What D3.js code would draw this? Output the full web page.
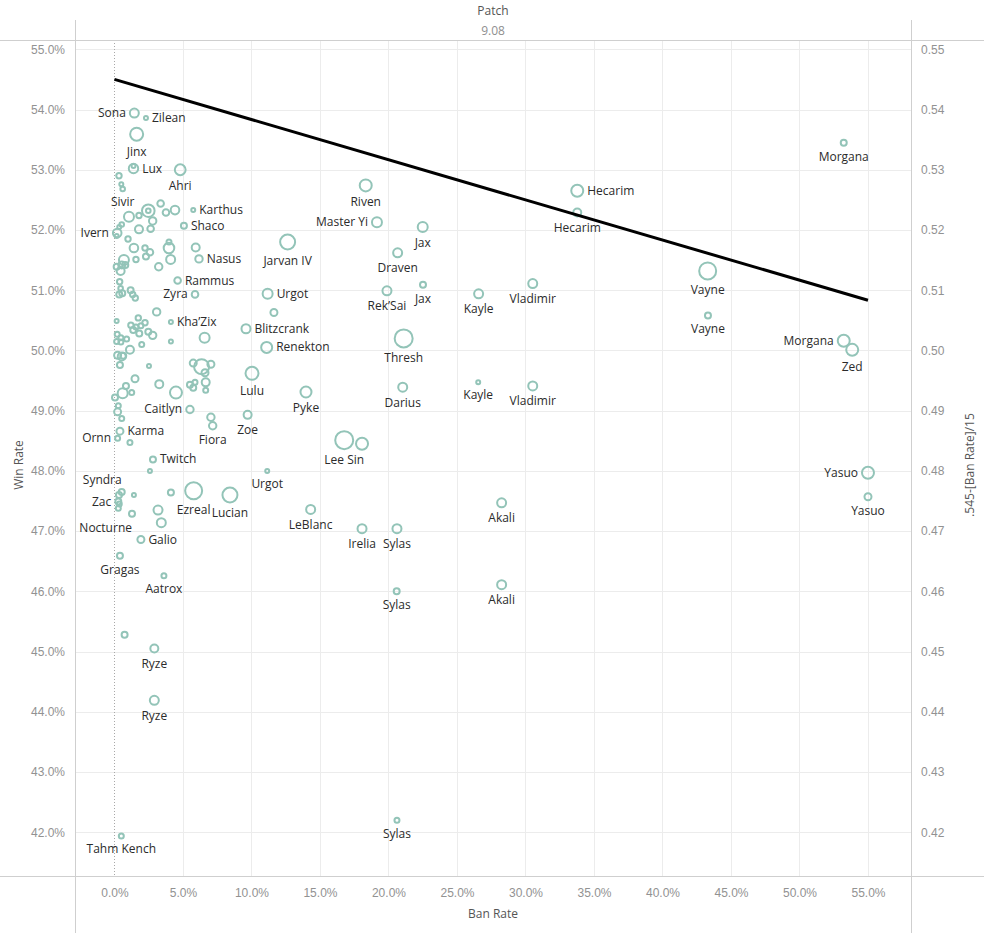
<!DOCTYPE html>
<html>
<head>
<meta charset="utf-8">
<script src="https://cdn.jsdelivr.net/npm/d3@7"></script>
<style>
  html, body { margin: 0; padding: 0; background: #fff; }
  svg { display: block; font-family: "Open Sans", "Noto Sans", sans-serif; }
  .tick text { fill: #929292; font-size: 12px; }
  .lbl { fill: #2b2b2b; font-size: 12px; }
</style>
</head>
<body>
<div id="chart"></div>
<script>
// Champion labels ("" = mark drawn without a label in the original view)
const champions = [
  "Sona", "Zilean", "Jinx", "Lux", "", "Ahri", "", "", "Sivir", "Karthus",
  "Shaco", "Ivern", "Nasus", "Rammus", "Jarvan IV", "Urgot", "Zyra", "Kha’Zix", "Blitzcrank", "Renekton",
  "Lulu", "Pyke", "Caitlyn", "Zoe", "Fiora", "", "Karma", "Ornn", "Twitch", "Urgot",
  "Syndra", "Zac", "", "", "", "Nocturne", "Galio", "Gragas", "Aatrox", "Ezreal",
  "Lucian", "LeBlanc", "Ryze", "Ryze", "Tahm Kench", "", "Riven", "Master Yi", "Jax", "Draven",
  "Jax", "Rek’Sai", "Kayle", "Vladimir", "Thresh", "Darius", "Kayle", "Vladimir", "Lee Sin", "",
  "Irelia", "Sylas", "Akali", "Sylas", "Akali", "Sylas", "Hecarim", "Hecarim", "Morgana", "Vayne",
  "Vayne", "Morgana", "Zed", "Yasuo", "Yasuo",
  // unlabeled marks in the crowded low-ban-rate cluster
  "", "", "", "", "", "", "", "", "", "",
  "", "", "", "", "", "", "", "", "", "",
  "", "", "", "", "", "", "", "", "", "",
  "", "", "", "", "", "", "", "", "", "",
  "", "", "", "", "", "", "", "", "", "",
  "", "", "", "", "", "", "", "", "", "",
  "", "", "", "", "", "", "", "", "", "",
  "", "", "", "", "", "", "", "", "", "",
  "", "", "", "", ""
];

// Ban rate (%)
const banRate = [
  1.45, 2.30, 1.62, 1.39, 1.39, 4.80, 0.33, 0.50, 0.60, 5.75,
  5.07, 0.20, 6.17, 4.61, 12.64, 11.18, 5.88, 4.12, 9.60, 11.11,
  10.04, 13.98, 5.51, 9.72, 7.17, 7.04, 0.40, 0.23, 2.81, 11.15,
  0.53, 0.28, 0.35, 0.28, 0.33, 1.28, 1.93, 0.40, 3.61, 5.78,
  8.43, 14.32, 2.91, 2.91, 0.50, 0.74, 18.34, 19.16, 22.50, 20.67,
  22.52, 19.89, 26.58, 30.53, 21.11, 21.04, 26.55, 30.53, 16.77, 18.07,
  18.07, 20.62, 28.26, 20.60, 28.26, 20.62, 33.78, 33.78, 53.23, 43.30,
  43.32, 53.23, 53.85, 55.00, 55.00,
  3.37, 2.47, 2.47, 4.42, 3.76, 1.06, 1.79, 2.79, 1.79, 2.64,
  0.53, 0.35, 0.16, 0.99, 3.98, 3.98, 5.93, 1.42, 2.23, 2.59,
  2.30, 1.57, 0.69, 4.10, 0.53, 0.16, 0.45, 0.79, 3.23, 0.38,
  0.45, 0.35, 0.57, 1.18, 1.33, 1.52, 3.08, 0.16, 1.20, 1.74,
  2.23, 1.57, 1.93, 1.37, 1.81, 2.47, 2.79, 4.12, 6.58, 1.99,
  0.20, 0.47, 0.16, 0.47, 0.89, 1.13, 0.23, 0.53, 0.64, 0.40,
  2.52, 5.75, 6.36, 7.04, 6.61, 1.50, 0.84, 0.60, 1.26, 0.04,
  3.27, 4.49, 5.51, 5.75, 5.88, 6.66, 6.66, 0.28, 0.23, 0.53,
  1.13, 2.59, 4.12, 1.42, 3.18, 3.42, 11.64
];

// Win rate (%)
const winRate = [
  53.94, 53.86, 53.59, 53.02, 53.06, 53.00, 52.90, 52.76, 52.68, 52.33,
  52.07, 51.95, 51.52, 51.16, 51.80, 50.94, 50.93, 50.47, 50.36, 50.05,
  49.62, 49.31, 49.02, 48.93, 48.75, 48.89, 48.66, 48.54, 48.19, 48.00,
  47.65, 47.49, 47.45, 47.38, 47.60, 47.29, 46.86, 46.59, 46.26, 47.67,
  47.60, 47.36, 45.05, 44.19, 41.94, 45.28, 52.74, 52.13, 52.05, 51.62,
  51.09, 50.99, 50.94, 51.11, 50.20, 49.39, 49.47, 49.41, 48.51, 48.45,
  47.04, 47.04, 47.47, 46.00, 46.11, 42.20, 52.65, 52.29, 53.45, 51.32,
  50.58, 50.16, 50.01, 47.97, 47.57,
  52.44, 52.32, 52.32, 52.33, 52.29, 52.22, 52.24, 52.15, 52.01, 52.02,
  52.09, 52.05, 51.90, 51.85, 51.80, 51.70, 51.71, 51.70, 51.70, 51.63,
  51.56, 51.51, 51.50, 51.51, 51.42, 51.39, 51.32, 51.42, 51.39, 51.14,
  51.03, 50.93, 50.95, 51.00, 50.93, 50.87, 50.64, 50.49, 50.42, 50.54,
  50.46, 50.39, 50.41, 50.34, 50.28, 50.31, 50.25, 50.15, 50.21, 50.10,
  50.27, 50.21, 50.15, 50.14, 50.19, 50.01, 49.92, 49.90, 49.91, 49.76,
  49.74, 49.79, 49.73, 49.77, 49.63, 49.53, 49.41, 49.29, 49.30, 49.22,
  49.44, 49.30, 49.43, 49.38, 49.47, 49.47, 49.34, 49.08, 48.98, 48.87,
  48.47, 48.00, 47.64, 47.60, 47.35, 47.14, 50.63
];

// Pick rate (%), drives the mark size
const pickRate = [
  4.05, 0.80, 8.45, 4.42, 0.80, 5.83, 1.46, 0.80, 1.06, 0.80,
  1.80, 3.70, 2.74, 2.18, 11.25, 5.00, 2.18, 0.80, 4.05, 6.05,
  8.45, 6.05, 2.74, 3.20, 2.74, 2.74, 2.45, 1.25, 1.80, 0.80,
  1.80, 1.80, 1.25, 1.25, 1.80, 1.80, 2.45, 1.80, 1.25, 14.45,
  11.25, 4.05, 3.20, 4.05, 1.25, 1.80, 7.20, 5.00, 5.00, 4.05,
  1.80, 4.05, 4.05, 4.05, 16.20, 4.05, 0.80, 4.05, 16.20, 7.20,
  4.05, 4.05, 4.05, 1.80, 4.05, 1.25, 7.20, 3.20, 1.80, 14.45,
  1.80, 7.20, 7.20, 7.20, 2.45,
  2.18, 7.94, 1.06, 3.70, 2.18, 5.00, 1.46, 2.74, 3.20, 2.18,
  1.06, 0.80, 0.80, 1.46, 1.25, 5.62, 3.20, 3.70, 1.46, 2.18,
  1.80, 1.46, 5.00, 4.05, 2.45, 1.80, 3.20, 1.80, 2.74, 1.46,
  1.06, 1.80, 1.80, 1.80, 1.46, 1.46, 2.74, 0.80, 1.46, 1.46,
  1.46, 1.25, 1.25, 1.80, 1.80, 1.80, 2.74, 0.80, 5.00, 1.25,
  1.25, 1.25, 1.25, 1.25, 1.25, 3.20, 2.45, 3.20, 1.80, 1.80,
  0.80, 2.45, 11.25, 2.45, 2.45, 2.45, 1.80, 5.00, 1.25, 1.80,
  3.20, 7.20, 1.80, 1.80, 1.25, 3.20, 1.25, 1.25, 2.45, 1.25,
  1.25, 0.80, 1.80, 0.80, 4.05, 4.05, 2.45
];

// Where each label sits relative to its mark (b = below, r = right, l = left, tl / bl = upper / lower left)
const labelSide = [
  "l", "r", "b", "r", "", "b", "", "", "b", "r",
  "r", "l", "r", "r", "b", "r", "l", "r", "r", "r",
  "b", "b", "l", "b", "b", "", "r", "l", "r", "b",
  "tl", "l", "", "", "", "bl", "r", "b", "b", "b",
  "b", "b", "b", "b", "b", "", "b", "l", "b", "b",
  "b", "b", "b", "b", "b", "b", "b", "b", "b", "",
  "b", "b", "b", "b", "b", "b", "r", "b", "b", "b",
  "b", "l", "b", "l", "b"
];

// Reference line: .545 - [Ban Rate]/15, drawn across the ban rate range
const lineBan = [0, 0.55];

const xTicks = d3.range(0, 0.5501, 0.05);
const yTicks = d3.range(0.42, 0.5501, 0.01);

const W = 988, H = 933;
const plot = {left: 75, right: 911, top: 40, bottom: 876};

let svg = d3.select('#chart')
            .append('svg')
            .attr('width', W)
            .attr('height', H);

let x = d3.scaleLinear()
          .domain([-0.0288, 0.5814])
          .range([plot.left, plot.right]);

let y = d3.scaleLinear()
          .domain([0.41274, 0.55154])
          .range([plot.bottom, plot.top]);

let r = d3.scaleSqrt()
          .domain([0, 20])
          .range([0, 10]);

// Gridlines
svg.append('g')
   .selectAll('line')
   .data(yTicks)
   .enter()
   .append('line')
   .attr('x1', plot.left).attr('x2', plot.right)
   .attr('y1', d => Math.round(y(d)) + 0.5).attr('y2', d => Math.round(y(d)) + 0.5)
   .attr('stroke', '#ececec');

svg.append('g')
   .selectAll('line')
   .data(xTicks.filter(d => d > 0))
   .enter()
   .append('line')
   .attr('x1', d => Math.round(x(d)) + 0.5).attr('x2', d => Math.round(x(d)) + 0.5)
   .attr('y1', plot.top).attr('y2', plot.bottom)
   .attr('stroke', '#ececec');

// Zero line (dotted)
svg.append('line')
   .attr('x1', Math.round(x(0)) + 0.5).attr('x2', Math.round(x(0)) + 0.5)
   .attr('y1', plot.top).attr('y2', plot.bottom)
   .attr('stroke', '#a8a8a8')
   .attr('stroke-dasharray', '1,2');

// Frame lines like the Tableau pane borders
let frame = svg.append('g').attr('stroke', '#cfcfcf');
frame.append('line').attr('x1', 0).attr('x2', 984).attr('y1', 40.5).attr('y2', 40.5);
frame.append('line').attr('x1', 0).attr('x2', 984).attr('y1', 876.5).attr('y2', 876.5);
frame.append('line').attr('x1', 75.5).attr('x2', 75.5).attr('y1', 20).attr('y2', H);
frame.append('line').attr('x1', 911.5).attr('x2', 911.5).attr('y1', 20).attr('y2', H);

// Axes
let yLeft = svg.append('g')
               .attr('transform', `translate(${plot.left - 7}, 0)`)
               .call(d3.axisLeft(y).tickValues(yTicks).tickFormat(d3.format('.1%')).tickSize(0));
yLeft.select('.domain').remove();

let yRight = svg.append('g')
                .attr('transform', `translate(${plot.right + 7}, 0)`)
                .call(d3.axisRight(y).tickValues(yTicks).tickFormat(d3.format('.2f')).tickSize(0));
yRight.select('.domain').remove();

let xAxis = svg.append('g')
               .attr('transform', `translate(0, ${plot.bottom + 9})`)
               .call(d3.axisBottom(x).tickValues(xTicks).tickFormat(d3.format('.1%')).tickSize(0));
xAxis.select('.domain').remove();

svg.selectAll('.tick text').attr('font-family', null).attr('font-size', null);

// Axis titles and header
svg.append('text')
   .attr('x', 493).attr('y', 918)
   .attr('text-anchor', 'middle')
   .attr('fill', '#555').attr('font-size', 12)
   .text('Ban Rate');

svg.append('text')
   .attr('transform', 'translate(23, 465) rotate(-90)')
   .attr('text-anchor', 'middle')
   .attr('fill', '#555').attr('font-size', 12)
   .text('Win Rate');

svg.append('text')
   .attr('transform', 'translate(974, 465) rotate(-90)')
   .attr('text-anchor', 'middle')
   .attr('fill', '#555').attr('font-size', 12)
   .text('.545-[Ban Rate]/15');

svg.append('text')
   .attr('x', 493).attr('y', 15)
   .attr('text-anchor', 'middle')
   .attr('fill', '#555').attr('font-size', 12)
   .text('Patch');

svg.append('text')
   .attr('x', 493).attr('y', 35)
   .attr('text-anchor', 'middle')
   .attr('fill', '#8f8f8f').attr('font-size', 12)
   .text('9.08');

// Marks
let points = banRate.map((b, i) => ({
  name: champions[i],
  ban: b / 100,
  win: winRate[i] / 100,
  pick: pickRate[i],
  side: labelSide[i] || ''
}));

svg.append('g')
   .selectAll('circle')
   .data(points)
   .enter()
   .append('circle')
   .attr('cx', d => x(d.ban))
   .attr('cy', d => y(d.win))
   .attr('r', d => r(d.pick))
   .attr('fill', 'none')
   .attr('stroke', '#93c4b8')
   .attr('stroke-width', 2);

// Reference line
svg.append('path')
   .datum(lineBan)
   .attr('d', d3.line().x(d => x(d)).y(d => y(0.545 - d / 15)))
   .attr('stroke', '#000')
   .attr('stroke-width', 3)
   .attr('fill', 'none');

// Labels, placed around the mark
function labelPos(d) {
  let cx = x(d.ban), cy = y(d.win), rad = r(d.pick);
  switch (d.side) {
    case 'r':  return [cx + rad + 4, cy + 4, 'start'];
    case 'l':  return [cx - rad - 4, cy + 4, 'end'];
    case 'tl': return [cx, cy - rad - 5, 'end'];
    case 'bl': return [cx, cy + rad + 15, 'end'];
    default:   return [cx, cy + rad + 15, 'middle'];
  }
}

svg.append('g')
   .selectAll('text')
   .data(points.filter(d => d.name !== '' && d.side !== ''))
   .enter()
   .append('text')
   .attr('class', 'lbl')
   .attr('x', d => labelPos(d)[0])
   .attr('y', d => labelPos(d)[1])
   .attr('text-anchor', d => labelPos(d)[2])
   .text(d => d.name);
</script>
</body>
</html>
